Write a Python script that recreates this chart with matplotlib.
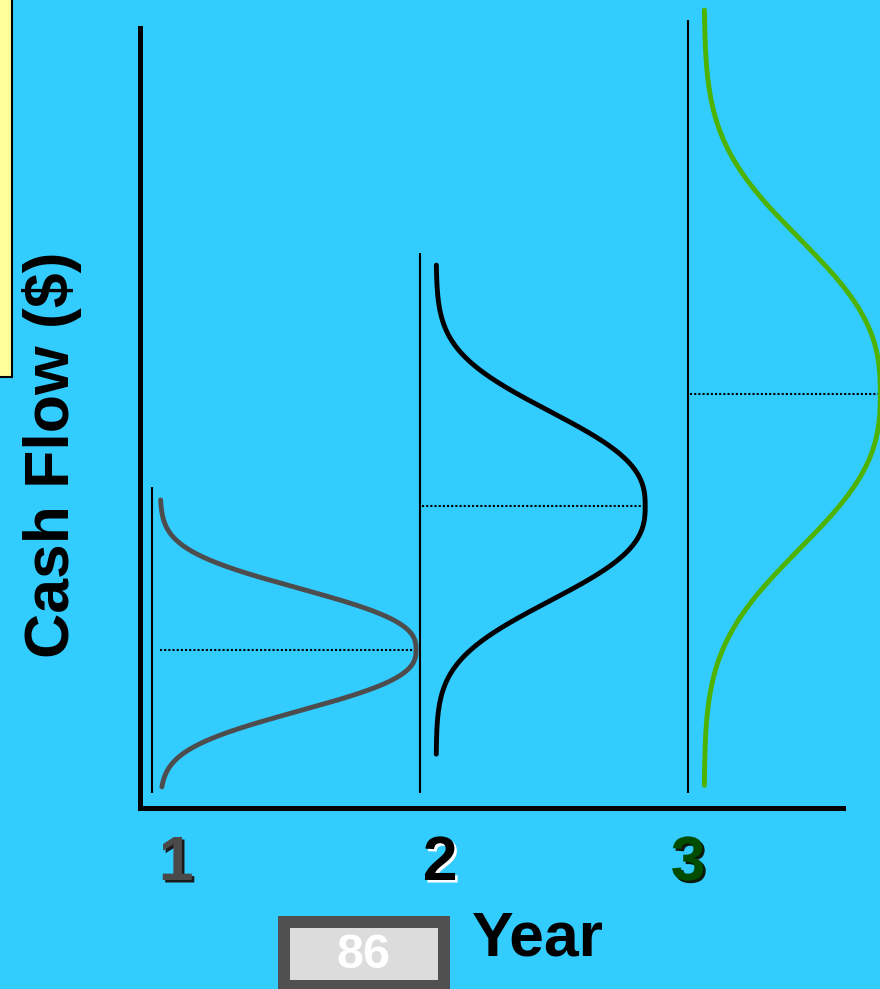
import numpy as np
import matplotlib.pyplot as plt
import matplotlib.patheffects as pe
from matplotlib.patches import Rectangle

plt.rcParams['font.family'] = ['Liberation Sans', 'DejaVu Sans']
plt.rcParams['font.weight'] = 'bold'

# cash flow distribution per year (arbitrary $ units)
years = [1, 2, 3]
means = [20.3, 38.7, 53.1]
spreads = [9.5, 14.7, 24.0]
lows = [2.7, 6.9, 2.9]
highs = [39.5, 69.6, 102.3]
density_peak = [0.955, 0.78, 0.657]
year_labels = ['1', '2', '3']

curve_colors = ['#4d4d4d', '#000000', '#4db300']
label_colors = ['#4a4a4a', '#000000', '#004d00']
shadow_colors = ['#1a1a1a', '#ffffff', '#0a1a0a']
label_nudge = [0.09, 0.075, 0.0]
curve_gap = [0.03, 0.06, 0.06]
bg = '#33ccff'
shape = 2.6   # flat-topped bell

fig = plt.figure(figsize=(8.8, 9.89), dpi=100, facecolor=bg)

# full-figure overlay in pixel units for the decorations
deco = fig.add_axes([0, 0, 1, 1], zorder=0)
deco.set_xlim(0, 880)
deco.set_ylim(989, 0)
deco.axis('off')

ax = fig.add_axes([140 / 880, 181 / 989, 703 / 880, 780 / 989], zorder=2)
ax.set_facecolor('none')
ax.set_xlim(0.955, 3.578)
ax.set_ylim(0, 100)
for side in ['top', 'right']:
    ax.spines[side].set_visible(False)
for side in ['left', 'bottom']:
    ax.spines[side].set_linewidth(3.6)
    ax.spines[side].set_capstyle('projecting')
ax.set_xticks([])
ax.set_yticks([])

for i, yr in enumerate(years):
    m, a = means[i], spreads[i]
    x0 = yr + curve_gap[i]
    y = np.linspace(lows[i], highs[i], 600)
    x = x0 + density_peak[i] * np.exp(-np.abs((y - m) / a) ** shape)
    ax.vlines(yr, 1.9, min(highs[i] + 1.6, 101.0), color='k', lw=1.5,
              clip_on=False)
    ax.plot(x, y, color=curve_colors[i], lw=3.5, solid_capstyle='round',
            clip_on=False, zorder=3)
    ax.hlines(m, x0 if i == 0 else yr + 0.008, x0 + density_peak[i],
              color='k', lw=1.5, linestyles=(0, (1, 1)), clip_on=False)
    ax.text(yr + label_nudge[i], -0.0923, year_labels[i],
            transform=ax.get_xaxis_transform(), ha='center', va='baseline',
            fontsize=45, fontweight='bold', color=label_colors[i],
            path_effects=[pe.SimplePatchShadow(offset=(1.8, -1.8),
                                               shadow_rgbFace=shadow_colors[i],
                                               alpha=1.0),
                          pe.Normal()])

deco.text(69, 455, 'Cash Flow ($)', rotation=90, rotation_mode='anchor',
          ha='center', va='baseline', fontsize=45, fontweight='bold', color='k')
deco.text(472, 955, 'Year', ha='left', va='baseline', fontsize=45,
          fontweight='bold', color='k')

# side note box and page number
deco.add_patch(Rectangle((-5, -5), 17, 382, fc='#ffff99', ec='k', lw=1.5))
deco.add_patch(Rectangle((278, 916), 172, 90, fc='#505050', ec='none'))
deco.add_patch(Rectangle((290, 928), 148, 52, fc='#dcdcdc', ec='none'))
deco.text(364, 968, '86', ha='center', va='baseline', fontsize=35,
          fontweight='bold', color='white')

fig.savefig('out.png', dpi=100, facecolor=bg)
